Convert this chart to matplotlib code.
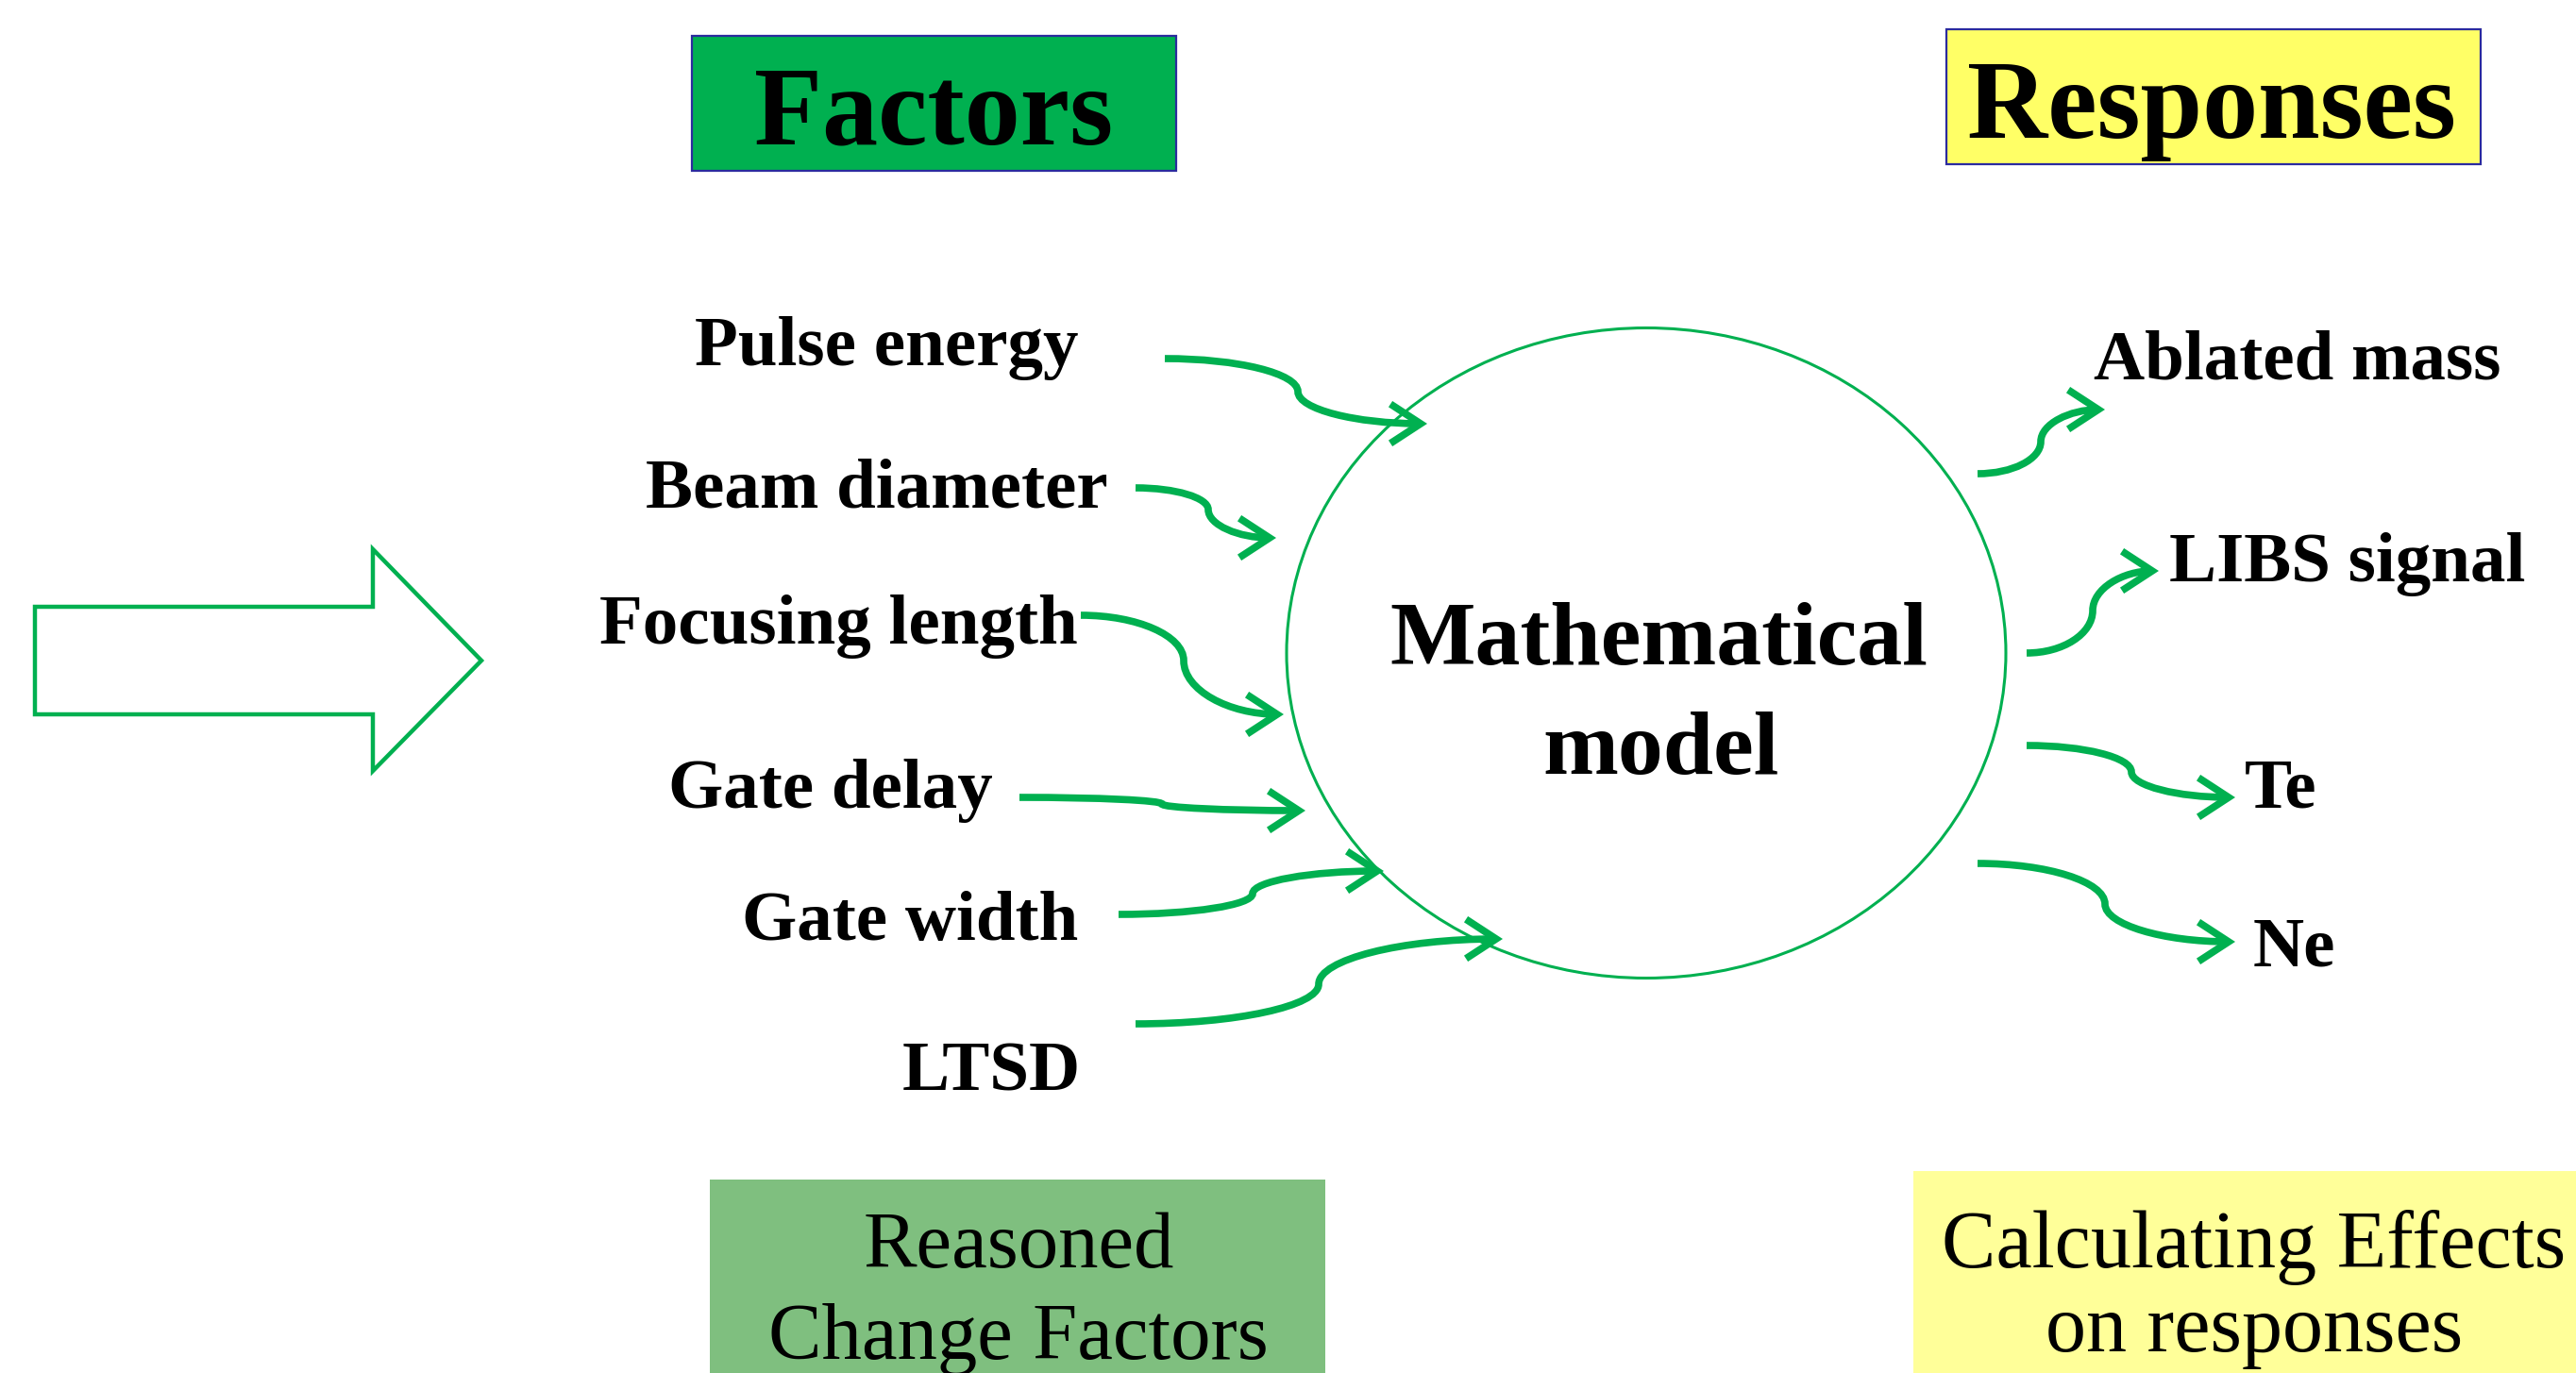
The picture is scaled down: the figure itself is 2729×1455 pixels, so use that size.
import matplotlib
matplotlib.use("Agg")
import matplotlib.pyplot as plt
from matplotlib.patches import Rectangle, Ellipse, Polygon, FancyArrowPatch
from matplotlib.path import Path

# diagram content
factors = ["Pulse energy", "Beam diameter", "Focusing length",
           "Gate delay", "Gate width", "LTSD"]
responses = ["Ablated mass", "LIBS signal", "Te", "Ne"]
model_text = "Mathematical\nmodel"
left_note = "Reasoned\nChange Factors"
right_note = "Calculating Effects\non responses"

# layout in pixel space (x right, y down)
factor_xy = [(1142, 387), (1174, 537), (1142, 682),
             (1052, 856), (1142, 996), (1145, 1156)]
response_xy = [(2218, 402), (2298, 616), (2378, 856), (2387, 1024)]
factor_arrows = [((1234, 380), (1375, 415), (1512, 449)),
                 ((1203, 517), (1280, 540), (1352, 570)),
                 ((1145, 652), (1254, 700), (1360, 757)),
                 ((1080, 845), (1231, 852), (1383, 859)),
                 ((1185, 969), (1327, 947), (1466, 923)),
                 ((1203, 1085), (1397, 1043), (1592, 995))]
response_arrows = [((2095, 502), (2162, 468), (2230, 434)),
                   ((2147, 692), (2217, 647), (2287, 605)),
                   ((2147, 790), (2258, 818), (2368, 845)),
                   ((2095, 915), (2230, 958), (2368, 998))]

GREEN = "#00B050"
FONT = "Liberation Serif"


def s_curve(ax, start, mid, end):
    (sx, sy), (mx, my), (ex, ey) = start, mid, end
    k = 0.55
    verts = [(sx, sy),
             (sx + k * (mx - sx), sy), (mx, my - k * (my - sy)), (mx, my),
             (mx, my + k * (ey - my)), (ex - k * (ex - mx), ey), (ex, ey)]
    codes = [Path.MOVETO] + [Path.CURVE4] * 6
    arr = FancyArrowPatch(path=Path(verts, codes),
                          arrowstyle="->,head_length=1.15,head_width=0.75",
                          mutation_scale=20, lw=5.5, color=GREEN,
                          capstyle="butt", joinstyle="miter")
    ax.add_patch(arr)


fig = plt.figure(figsize=(27.29, 14.55), dpi=100)
ax = fig.add_axes([0, 0, 1, 1])
ax.set_xlim(0, 2729)
ax.set_ylim(1455, 0)
ax.axis("off")

# title boxes
ax.add_patch(Rectangle((733, 38), 513, 143, facecolor=GREEN, edgecolor="#2B2B9E", lw=1.6))
ax.text(989, 153, "Factors", ha="center", va="baseline", fontsize=85,
        fontweight="bold", family=FONT)
ax.add_patch(Rectangle((2062, 31), 566, 143, facecolor="#FFFF66", edgecolor="#2B2B9E", lw=1.6))
ax.text(2343, 146, "Responses", ha="center", va="baseline", fontsize=85,
        fontweight="bold", family=FONT)

# hollow block arrow on the left
ax.add_patch(Polygon([(37, 643), (395, 643), (395, 582), (510, 700),
                      (395, 817), (395, 757), (37, 757)],
                     closed=True, fill=False, edgecolor=GREEN, lw=3.2,
                     joinstyle="miter"))

# model ellipse
ax.add_patch(Ellipse((1744, 692), 762, 689, fill=False, edgecolor=GREEN, lw=2.2))
ax.text(1757, 704, "Mathematical", ha="center", va="baseline", fontsize=69,
        fontweight="bold", family=FONT)
ax.text(1760, 820, "model", ha="center", va="baseline", fontsize=69,
        fontweight="bold", family=FONT)

# factors
for name, (x, y) in zip(factors, factor_xy):
    ax.text(x, y, name, ha="right", va="baseline", fontsize=54,
            fontweight="bold", family=FONT)
for s, m, e in factor_arrows:
    s_curve(ax, s, m, e)

# responses
for name, (x, y) in zip(responses, response_xy):
    ax.text(x, y, name, ha="left", va="baseline", fontsize=54,
            fontweight="bold", family=FONT)
for s, m, e in response_arrows:
    s_curve(ax, s, m, e)

# bottom notes
ax.add_patch(Rectangle((752, 1250), 652, 220, facecolor="#7FBF7F", edgecolor="none"))
l1, l2 = left_note.split("\n")
ax.text(1079, 1343, l1, ha="center", va="baseline", fontsize=61, family=FONT)
ax.text(1079, 1440, l2, ha="center", va="baseline", fontsize=61, family=FONT)

ax.add_patch(Rectangle((2027, 1241), 720, 230, facecolor="#FFFF99", edgecolor="none"))
r1, r2 = right_note.split("\n")
ax.text(2388, 1343, r1, ha="center", va="baseline", fontsize=62, family=FONT)
ax.text(2388, 1432, r2, ha="center", va="baseline", fontsize=62, family=FONT)

fig.savefig("out.png", dpi=100)
